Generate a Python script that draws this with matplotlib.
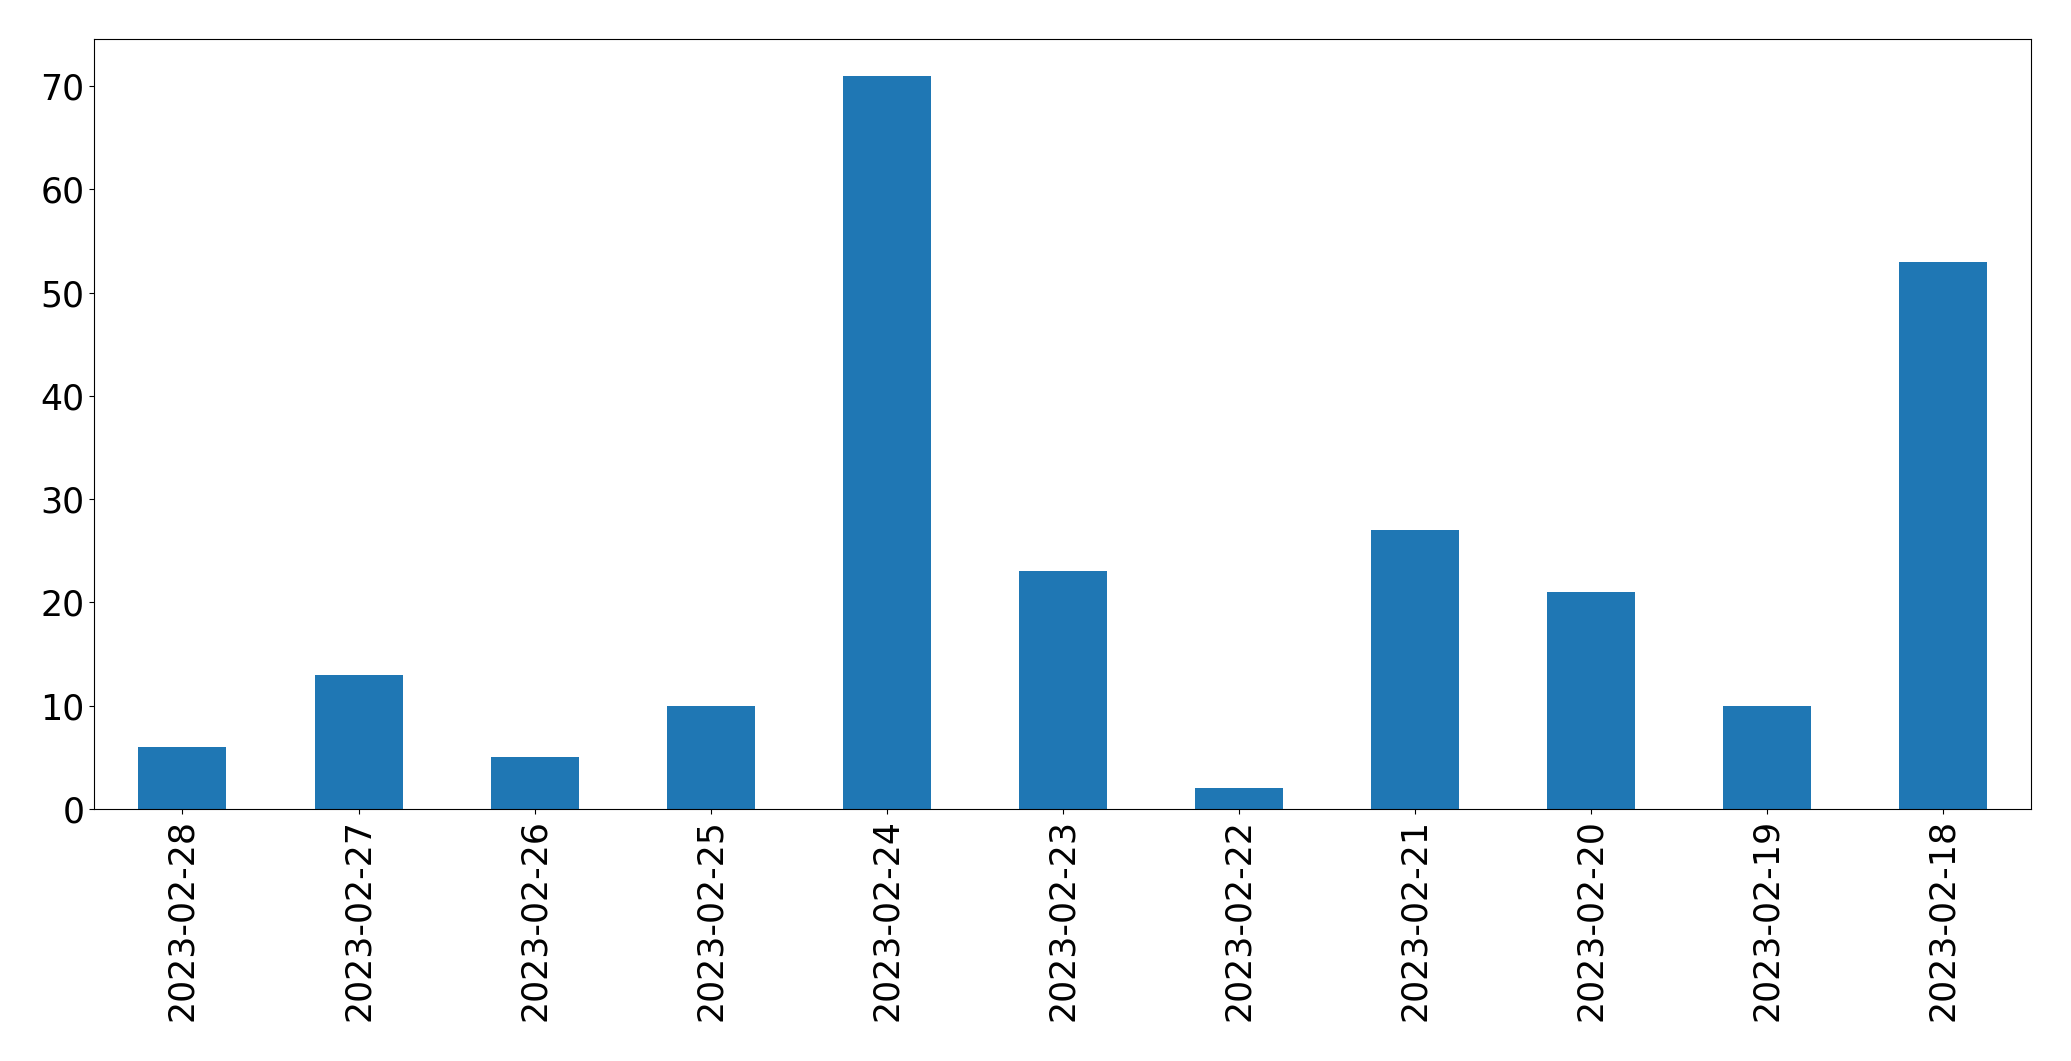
import matplotlib
matplotlib.use("Agg")
import matplotlib.pyplot as plt

dates = ["2023-02-28", "2023-02-27", "2023-02-26", "2023-02-25", "2023-02-24",
         "2023-02-23", "2023-02-22", "2023-02-21", "2023-02-20", "2023-02-19",
         "2023-02-18"]
counts = [6, 13, 5, 10, 71, 23, 2, 27, 21, 10, 53]

fig = plt.figure(figsize=(20.71, 10.61), dpi=100)
ax = fig.add_axes([0.0456, 0.2375, 0.9352, 0.7257])
x = list(range(len(dates)))
ax.bar(x, counts, width=0.5, color="#1f77b4")
ax.set_xlim(-0.5, len(dates) - 0.5)
ax.set_ylim(0, max(counts) * 1.05)
ax.set_xticks(x)
ax.set_xticklabels(dates, rotation=90, fontsize=25)
ax.tick_params(axis="y", labelsize=25)
fig.savefig("out.png", dpi=100)
